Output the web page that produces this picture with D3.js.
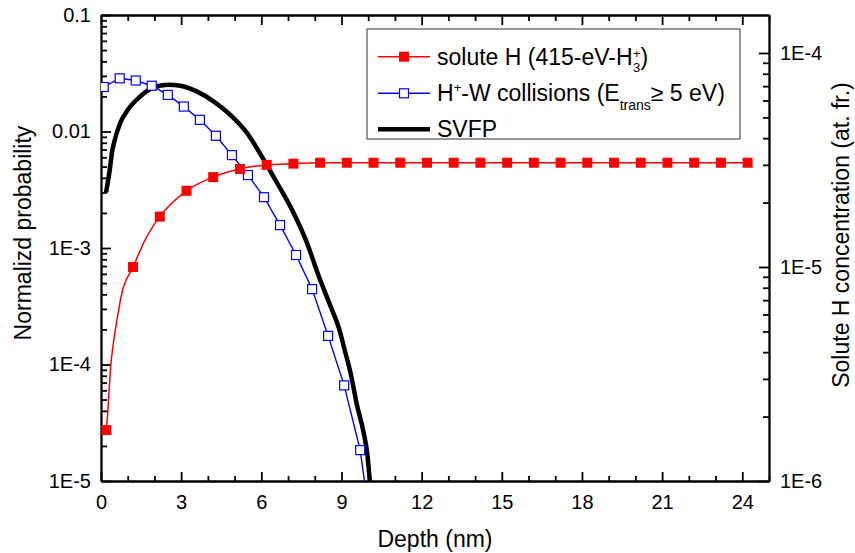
<!DOCTYPE html>
<html>
<head>
<meta charset="utf-8">
<script src="https://cdn.jsdelivr.net/npm/d3@7"></script>
<style>
  body { margin: 0; background: #fff; }
  svg { display: block; }
  .axis path, .axis line { stroke: #000; stroke-width: 1.8; }
  .axis text { font-size: 20px; fill: #000; }
</style>
</head>
<body>
<svg id="chart" width="855" height="553" font-family="'Liberation Sans', Arial, sans-serif"></svg>
<script>
// solute H concentration (right axis), one marker per nm
const soluteX = [0.2, 1.2, 2.2, 3.2, 4.2, 5.2, 6.2, 7.2, 8.2, 9.2, 10.2, 11.2, 12.2,
  13.2, 14.2, 15.2, 16.2, 17.2, 18.2, 19.2, 20.2, 21.2, 22.2, 23.2, 24.2];
const soluteH = [1.73e-6, 1.0e-5, 1.72e-5, 2.27e-5, 2.63e-5, 2.87e-5, 3.0e-5, 3.04e-5, 3.07e-5,
  3.07e-5, 3.07e-5, 3.07e-5, 3.07e-5, 3.07e-5, 3.07e-5, 3.07e-5, 3.07e-5, 3.07e-5,
  3.07e-5, 3.07e-5, 3.07e-5, 3.07e-5, 3.07e-5, 3.07e-5, 3.07e-5];
// extra points of the red curve between markers
const soluteLineX = [0.24, 0.3, 0.36, 0.44, 0.56, 0.78, 1.65];
const soluteLineH = [2.0e-6, 2.6e-6, 3.4e-6, 4.2e-6, 5.3e-6, 7.54e-6, 1.34e-5];

// H+-W collisions, markers every 0.6 nm (left axis)
const collX = [0.1, 0.7, 1.3, 1.9, 2.5, 3.1, 3.7, 4.3, 4.9, 5.5, 6.1, 6.7, 7.3, 7.9, 8.5, 9.1, 9.7];
const collP = [0.0241, 0.0286, 0.0274, 0.0247, 0.0206, 0.01637, 0.01259, 0.00919, 0.00627,
  0.00423, 0.00273, 0.001573, 0.000871, 0.000444, 0.000176, 6.62e-5, 1.84e-5];
const collTailX = [9.86];
const collTailP = [1.0e-5];

// SVFP (left axis)
const svfpX = [0.19, 0.34, 0.41, 0.49, 0.71, 1.01, 1.46, 1.95, 2.51, 2.96, 3.58, 4.21, 4.83,
  5.46, 6.08, 6.58, 7.20, 7.70, 8.14, 8.58, 8.91, 9.14, 9.33, 9.58, 9.82, 9.97, 10.06];
const svfpP = [0.00301, 0.00492, 0.00662, 0.00805, 0.0117, 0.01542, 0.01991, 0.02377, 0.02522,
  0.0247, 0.0221, 0.01816, 0.01397, 0.00975, 0.00577, 0.00365, 0.00202, 0.00112, 0.00058,
  0.000321, 0.000203, 1.28e-4, 8.66e-5, 4.49e-5, 2.66e-5, 1.68e-5, 1.0e-5];

const xMajor = [0, 3, 6, 9, 12, 15, 18, 21, 24];
const leftMajor = [1e-5, 1e-4, 1e-3, 1e-2, 1e-1];
const leftLabels = ['1E-5', '1E-4', '1E-3', '0.01', '0.1'];
const rightMajor = [1e-6, 1e-5, 1e-4];
const rightLabels = ['1E-6', '1E-5', '1E-4'];

const svg = d3.select('#chart');
const L = 101, R = 769, T = 15, B = 481;
const FONT = "'Liberation Sans', Arial, sans-serif";

const x = d3.scaleLinear().domain([0, 25]).range([L, R]);
const yL = d3.scaleLog().domain([1e-5, 0.1]).range([B, T]);
const yR = d3.scaleLog().domain([1e-6, 1.505e-4]).range([B, T]);

function minors(lo, hi) {
  const out = [];
  for (let e = lo; e < hi; e++) for (let m = 2; m <= 9; m++) out.push(m * Math.pow(10, e));
  return out;
}
const xMinor = d3.range(0, 26).filter(v => v % 3 !== 0);

// axes: minor ticks first, then majors with labels
svg.append('g').attr('class', 'axis').attr('transform', `translate(0,${B})`)
  .call(d3.axisBottom(x).tickValues(xMinor).tickSize(-5).tickSizeOuter(0).tickFormat(''));
svg.append('g').attr('class', 'axis').attr('transform', `translate(0,${B})`)
  .call(d3.axisBottom(x).tickValues(xMajor).tickSize(-9).tickSizeOuter(0).tickPadding(14));
svg.append('g').attr('class', 'axis').attr('transform', `translate(0,${T})`)
  .call(d3.axisTop(x).tickValues(xMinor).tickSize(-6).tickSizeOuter(0).tickFormat(''));
svg.append('g').attr('class', 'axis').attr('transform', `translate(0,${T})`)
  .call(d3.axisTop(x).tickValues(xMajor).tickSize(-10).tickSizeOuter(0).tickFormat(''));

svg.append('g').attr('class', 'axis').attr('transform', `translate(${L},0)`)
  .call(d3.axisLeft(yL).tickValues(minors(-5, -1)).tickSize(-6).tickSizeOuter(0).tickFormat(''));
svg.append('g').attr('class', 'axis').attr('transform', `translate(${L},0)`)
  .call(d3.axisLeft(yL).tickValues(leftMajor).tickSize(-10).tickSizeOuter(0).tickPadding(10)
    .tickFormat((d, i) => leftLabels[i]));

svg.append('g').attr('class', 'axis').attr('transform', `translate(${R},0)`)
  .call(d3.axisRight(yR).tickValues(minors(-6, -4)).tickSize(-6).tickSizeOuter(0).tickFormat(''));
svg.append('g').attr('class', 'axis').attr('transform', `translate(${R},0)`)
  .call(d3.axisRight(yR).tickValues(rightMajor).tickSize(-10).tickSizeOuter(0).tickPadding(11)
    .tickFormat((d, i) => rightLabels[i]));

svg.selectAll('.axis').attr('font-family', FONT);

// axis titles
svg.append('text').attr('x', x(12.5)).attr('y', 547).attr('text-anchor', 'middle')
  .attr('font-size', 23).text('Depth (nm)');
svg.append('text').attr('transform', 'translate(31,233) rotate(-90)').attr('text-anchor', 'middle')
  .attr('font-size', 23).text('Normalizd probability');
svg.append('text').attr('transform', 'translate(849,235) rotate(-90)').attr('text-anchor', 'middle')
  .attr('font-size', 23).text('Solute H concentration (at. fr.)');

// data series
svg.append('clipPath').attr('id', 'clip').append('rect')
  .attr('x', L).attr('y', T).attr('width', R - L).attr('height', B - T);
const plot = svg.append('g').attr('clip-path', 'url(#clip)');

const svfp = svfpX.map((d, i) => [d, svfpP[i]]);
plot.append('path').datum(svfp)
  .attr('fill', 'none').attr('stroke', '#000').attr('stroke-width', 4.5)
  .attr('stroke-linejoin', 'round')
  .attr('d', d3.line().x(d => x(d[0])).y(d => yL(d[1])).curve(d3.curveMonotoneX));

const coll = collX.map((d, i) => [d, collP[i]]);
const collLine = coll.concat(collTailX.map((d, i) => [d, collTailP[i]]));
plot.append('path').datum(collLine)
  .attr('fill', 'none').attr('stroke', '#0000ff').attr('stroke-width', 1.4)
  .attr('d', d3.line().x(d => x(d[0])).y(d => yL(d[1])));
plot.selectAll('.coll').data(coll).enter().append('rect')
  .attr('x', d => x(d[0]) - 4.5).attr('y', d => yL(d[1]) - 4.5)
  .attr('width', 9).attr('height', 9)
  .attr('fill', '#fff').attr('stroke', '#0000ff').attr('stroke-width', 1.2);

const solute = soluteX.map((d, i) => [d, soluteH[i]]);
const soluteLine = solute.concat(soluteLineX.map((d, i) => [d, soluteLineH[i]]))
  .sort((a, b) => a[0] - b[0]);
plot.append('path').datum(soluteLine)
  .attr('fill', 'none').attr('stroke', '#ff0000').attr('stroke-width', 1.5)
  .attr('d', d3.line().x(d => x(d[0])).y(d => yR(d[1])).curve(d3.curveMonotoneX));
svg.selectAll('.sol').data(solute).enter().append('rect')
  .attr('x', d => x(d[0]) - 5).attr('y', d => yR(d[1]) - 5)
  .attr('width', 10).attr('height', 10).attr('fill', '#ff0000');

// legend
const lg = svg.append('g').attr('font-size', 23);
lg.append('rect').attr('x', 367).attr('y', 29).attr('width', 373).attr('height', 110)
  .attr('fill', '#fff').attr('stroke', '#333').attr('stroke-width', 1);
const rowY = [56.7, 93.3, 129.3];
const lx1 = 378, lx2 = 430, tx = 437;

lg.append('line').attr('x1', lx1).attr('x2', lx2).attr('y1', rowY[0]).attr('y2', rowY[0])
  .attr('stroke', '#ff0000').attr('stroke-width', 1.5);
lg.append('rect').attr('x', 404 - 5).attr('y', rowY[0] - 5).attr('width', 10).attr('height', 10)
  .attr('fill', '#ff0000');
const t1 = lg.append('text').attr('x', tx).attr('y', rowY[0] + 8).text('solute H (415-eV-H');
const w1 = t1.node().getComputedTextLength();
lg.append('text').attr('x', tx + w1 + 0.5).attr('y', rowY[0] + 1).attr('font-size', 13).text('+');
lg.append('text').attr('x', tx + w1 + 0.5).attr('y', rowY[0] + 15).attr('font-size', 13).text('3');
lg.append('text').attr('x', tx + w1 + 8).attr('y', rowY[0] + 8).text(')');

lg.append('line').attr('x1', lx1).attr('x2', lx2).attr('y1', rowY[1]).attr('y2', rowY[1])
  .attr('stroke', '#0000ff').attr('stroke-width', 1.4);
lg.append('rect').attr('x', 404 - 4.5).attr('y', rowY[1] - 4.5).attr('width', 9).attr('height', 9)
  .attr('fill', '#fff').attr('stroke', '#0000ff').attr('stroke-width', 1.2);
const t2 = lg.append('text').attr('x', tx).attr('y', rowY[1] + 8);
t2.append('tspan').text('H');
t2.append('tspan').attr('dy', -9).attr('font-size', 13).text('+');
t2.append('tspan').attr('dy', 9).text('-W collisions (E');
t2.append('tspan').attr('dy', 9).attr('font-size', 14).text('trans');
t2.append('tspan').attr('dy', -9).text('≥ 5 eV)');

lg.append('line').attr('x1', lx1).attr('x2', lx2).attr('y1', rowY[2]).attr('y2', rowY[2])
  .attr('stroke', '#000').attr('stroke-width', 4.5);
lg.append('text').attr('x', tx).attr('y', rowY[2] + 8).text('SVFP');
</script>
</body>
</html>
